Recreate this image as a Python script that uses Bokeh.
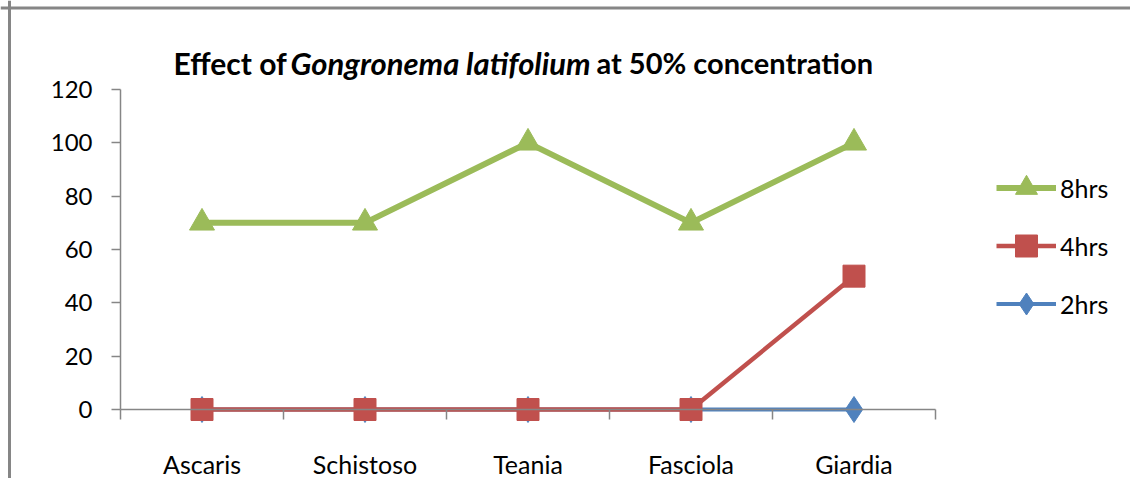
from bokeh.plotting import figure
from bokeh.models import (Legend, LegendItem, FixedTicker, Label, Span,
                          ColumnDataSource, Range1d)
from bokeh.embed import file_html
from bokeh.resources import INLINE

categories = ["Ascaris", "Schistoso", "Teania", "Fasciola", "Giardia"]
hrs8 = [70, 70, 100, 70, 100]
hrs4 = [0, 0, 0, 0, 50]
hrs2 = [0, 0, 0, 0, 0]
y_ticks = [0, 20, 40, 60, 80, 100, 120]
title_parts = ["Effect of", "Gongronema latifolium", "at 50% concentration"]

GREEN = "#9BBB59"
RED = "#C0504D"
BLUE = "#4F81BD"
GRAY = "#868686"
FONT = "Lato"

W, H = 1130, 478
# plot area (pixels in canvas): axis left, right, top (120), bottom (0)
AX_L, AX_R, AX_T, AX_B = 120, 935, 89, 409
n = len(categories)
px_x = (AX_R - AX_L) / n
px_y = (AX_B - AX_T) / 120.0
x_start = 0.5 - AX_L / px_x
x_end = 0.5 + (W - AX_L) / px_x
y_start = -(H - AX_B) / px_y
y_end = 120 + AX_T / px_y

xs = list(range(1, n + 1))
src = ColumnDataSource(dict(x=xs, h8=hrs8, h4=hrs4, h2=hrs2))

p = figure(width=W, height=H, output_backend="svg", toolbar_location=None,
           x_range=Range1d(x_start, x_end), y_range=Range1d(y_start, y_end),
           min_border_left=0, min_border_right=0, min_border_top=0,
           min_border_bottom=0)
p.outline_line_color = None
p.grid.visible = False
p.background_fill_color = "white"
p.border_fill_color = "white"

# axes
xa = p.xaxis[0]
xa.ticker = FixedTicker(ticks=xs, minor_ticks=[i + 0.5 for i in range(0, n + 1)])
xa.major_label_overrides = {i + 1: c for i, c in enumerate(categories)}
xa.fixed_location = 0
xa.bounds = (0.5, n + 0.5)
xa.major_tick_out = 0
xa.major_tick_in = 0
xa.minor_tick_out = 10
xa.minor_tick_in = 0
xa.minor_tick_line_color = GRAY
xa.minor_tick_line_width = 1.5
xa.axis_line_color = GRAY
xa.axis_line_width = 1.5
xa.major_label_text_font = FONT
xa.major_label_text_font_size = "25px"
xa.major_label_text_color = "black"
xa.major_label_standoff = 29

ya = p.yaxis[0]
ya.ticker = FixedTicker(ticks=y_ticks, minor_ticks=[])
ya.fixed_location = 0.5
ya.bounds = (0, 120)
ya.major_tick_out = 9
ya.major_tick_in = 0
ya.major_tick_line_color = GRAY
ya.major_tick_line_width = 1.5
ya.axis_line_color = GRAY
ya.axis_line_width = 1.5
ya.major_label_text_font = FONT
ya.major_label_text_font_size = "24px"
ya.major_label_text_color = "black"
ya.major_label_standoff = 19

# series (2hrs first, 8hrs on top)
l2 = p.line("x", "h2", source=src, line_color=BLUE, line_width=4)
m2 = p.scatter("x", "h2", source=src, marker="diamond", size=26,
               fill_color=BLUE, line_color=BLUE)
l4 = p.line("x", "h4", source=src, line_color=RED, line_width=4.5)
m4 = p.scatter("x", "h4", source=src, marker="square", size=22,
               fill_color=RED, line_color=RED)
l8 = p.line("x", "h8", source=src, line_color=GREEN, line_width=6)
m8 = p.scatter("x", "h8", source=src, marker="triangle", size=25,
               fill_color=GREEN, line_color=GREEN)

GH, SP = 55, 3
leg_h = 3 * GH + 2 * SP
leg_center = 245.5
legend = Legend(items=[LegendItem(label="8hrs", renderers=[l8, m8]),
                       LegendItem(label="4hrs", renderers=[l4, m4]),
                       LegendItem(label="2hrs", renderers=[l2, m2])],
                location=(996, H - leg_center - leg_h / 2), orientation="vertical",
                glyph_width=60, glyph_height=GH, label_height=GH, spacing=SP,
                label_standoff=4, padding=0, margin=0,
                border_line_color=None, background_fill_alpha=0,
                label_text_font=FONT, label_text_font_size="25px",
                label_text_color="black")
p.add_layout(legend, "center")

# title in three pieces (screen units, y up from bottom)
title_base = 62
starts = [173, 290, 596]
sizes = ["30px", "31px", "29px"]
styles = ["bold", "bold italic", "bold"]
for txt, sx, fs, st in zip(title_parts, starts, sizes, styles):
    p.add_layout(Label(x=sx, y=H - title_base, x_units="screen", y_units="screen",
                       text=txt, text_font=FONT, text_font_size=fs,
                       text_font_style=st, text_color="black",
                       text_baseline="alphabetic", text_align="left"))

# outer chart border (left and top visible)
p.add_layout(Span(location=x_start + 9 / px_x, dimension="height",
                  line_color=GRAY, line_width=3))
p.add_layout(Span(location=y_end - 7.5 / px_y, dimension="width",
                  line_color=GRAY, line_width=3))

open("out.html", "w").write(file_html(p, INLINE))
